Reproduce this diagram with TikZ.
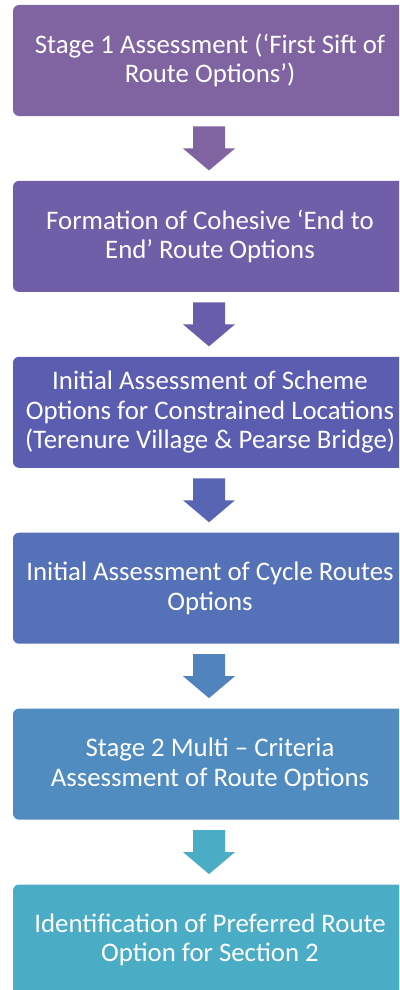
\documentclass[tikz,border=0pt]{standalone}
\usepackage{fontspec}
\setmainfont{Carlito}
\usetikzlibrary{positioning,calc}

\definecolor{boxA}{HTML}{8064A2}
\definecolor{boxB}{HTML}{6E5FA8}
\definecolor{boxC}{HTML}{5A5DB0}
\definecolor{boxD}{HTML}{5571B8}
\definecolor{boxE}{HTML}{508CC0}
\definecolor{boxF}{HTML}{4BACC6}
\definecolor{arrA}{HTML}{8064A2}
\definecolor{arrB}{HTML}{685DAB}
\definecolor{arrC}{HTML}{5765B3}
\definecolor{arrD}{HTML}{5184BD}
\definecolor{arrE}{HTML}{4BACC6}

\begin{document}
\begin{tikzpicture}[x=1pt,y=1pt,
    node distance=64.5pt,
    stage/.style={rounded corners=6pt, minimum width=394pt, minimum height=111pt,
        inner sep=0pt, text=white, align=center,
        font=\fontsize{26.8}{29.6}\selectfont}]
    \clip (0,0) rectangle (399,-990);

    % process boxes
    \node[stage, fill=boxA] (s1) at (210,-60.5) {Stage 1 Assessment (`First Sift of\\Route Options')};
    \node[stage, fill=boxB, below=of s1] (s2) {Formation of Cohesive `End to\\End' Route Options};
    \node[stage, fill=boxC, below=of s2] (s3) {Initial Assessment of Scheme\\Options for Constrained Locations\\(Terenure Village \& Pearse Bridge)};
    \node[stage, fill=boxD, below=of s3] (s4) {Initial Assessment of Cycle Routes\\Options};
    \node[stage, fill=boxE, below=of s4] (s5) {Stage 2 Multi -- Criteria\\Assessment of Route Options};
    \node[stage, fill=boxF, below=of s5] (s6) {Identification of Preferred Route\\Option for Section 2};

    % block arrows between the boxes
    \foreach \from/\to/\col in {s1/s2/arrA, s2/s3/arrB, s3/s4/arrC, s4/s5/arrD, s5/s6/arrE} {
        \coordinate (m) at ($(\from.south)!0.5!(\to.north)+(-1,0)$);
        \fill[\col] ($(m)+(-16,22)$) -- ++(32,0) -- ++(0,-22) -- ++(10,0)
            -- ++(-26,-22) -- ++(-26,22) -- ++(10,0) -- cycle;
    }
\end{tikzpicture}
\end{document}
